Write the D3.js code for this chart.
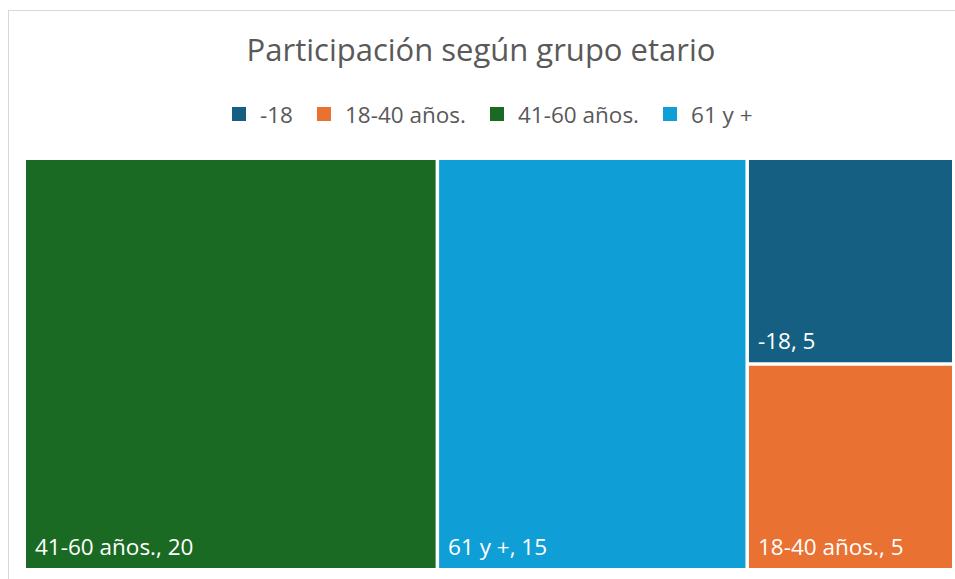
<!DOCTYPE html>
<html>
<head>
	<meta charset="utf-8">
	<title>Participación según grupo etario</title>
	<script type="text/javascript" src="https://cdn.jsdelivr.net/npm/d3@7"></script>
	<style>
		body {
			margin: 0;
			background: #fff;
			font-family: "Segoe UI", "Open Sans", sans-serif;
		}
	</style>
</head>

<body>

	<div id="chart"></div>

	<script>

		// data
		const categories = ["41-60 años.", "61 y +", "-18", "18-40 años."];
		const values     = [20, 15, 5, 5];
		const legendOrder = ["-18", "18-40 años.", "41-60 años.", "61 y +"];
		const colors     = {
			"-18": "#156082",
			"18-40 años.": "#e97132",
			"41-60 años.": "#1b6a24",
			"61 y +": "#0f9ed5"
		};

		const width  = 955;
		const height = 579;
		const title  = "Participación según grupo etario";

		const plot = { left: 26, top: 160, right: 952, bottom: 568 };

		const svg = d3.select("#chart")
			.append("svg")
			.attr("width", width)
			.attr("height", height)
			.attr("viewBox", [0, 0, width, height]);

		// chart frame
		svg.append("rect")
			.attr("x", 8.5)
			.attr("y", 10.5)
			.attr("width", 960)
			.attr("height", 600)
			.attr("fill", "none")
			.attr("stroke", "#d9d9d9");

		svg.append("text")
			.attr("x", 481)
			.attr("y", 61)
			.attr("text-anchor", "middle")
			.attr("fill", "#595959")
			.style("font-size", "31px")
			.text(title);

		// legend
		const legend = svg.append("g");
		const items = legend.selectAll("g")
			.data(legendOrder)
			.join("g");
		items.append("rect")
			.attr("width", 14)
			.attr("height", 14)
			.attr("y", 107)
			.attr("fill", d => colors[d]);
		items.append("text")
			.attr("x", 28)
			.attr("y", 123)
			.attr("fill", "#595959")
			.style("font-size", "22.5px")
			.text(d => d);
		let lx = 0;
		items.each(function () {
			const w = this.getBBox().width;
			d3.select(this).attr("transform", `translate(${lx},0)`);
			lx += w + 24;
		});
		legend.attr("transform", `translate(${232},0)`);

		// treemap
		const root = d3.hierarchy({
				children: categories.map((c, i) => ({ name: c, value: values[i] }))
			})
			.sum(d => d.value || 0);

		d3.treemap()
			.tile(d3.treemapBinary)
			.size([plot.right - plot.left, plot.bottom - plot.top])
			.paddingInner(3.5)
			.round(false)(root);

		const cell = svg.append("g")
			.attr("transform", `translate(${plot.left},${plot.top})`)
			.selectAll("g")
			.data(root.leaves())
			.join("g")
			.attr("transform", d => `translate(${d.x0},${d.y0})`);

		cell.append("rect")
			.attr("width", d => d.x1 - d.x0)
			.attr("height", d => d.y1 - d.y0)
			.attr("fill", d => colors[d.data.name]);

		cell.append("text")
			.attr("x", 9)
			.attr("y", d => d.y1 - d.y0 - 13)
			.attr("fill", "#fff")
			.style("font-size", "22.5px")
			.text(d => `${d.data.name}, ${d.data.value}`);

	</script>

</body>

</html>
